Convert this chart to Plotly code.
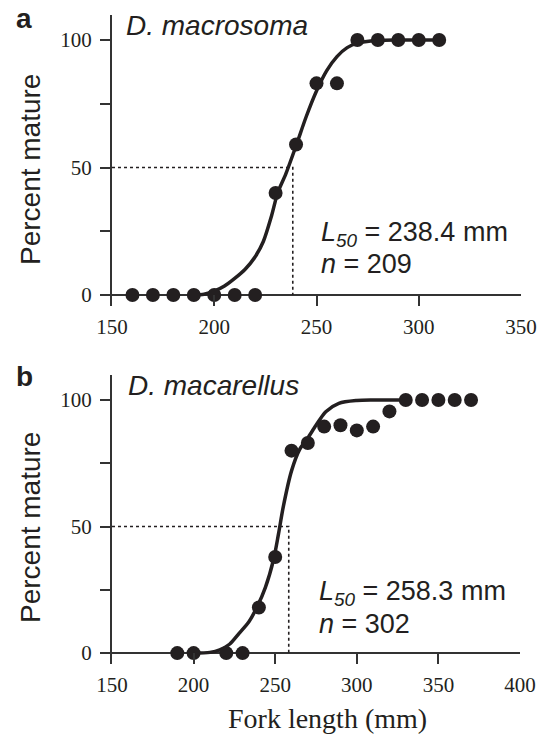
import plotly.graph_objects as go

W, H = 539, 738

# ---------------- data ----------------
# Panel a: D. macrosoma
a_len = [160, 170, 180, 190, 200, 210, 220, 230, 240, 250, 260, 270, 280, 290, 300, 310]
a_pct = [0, 0, 0, 0, 0, 0, 0, 40, 59, 83, 83, 100, 100, 100, 100, 100]
a_fit_len = [190, 195, 200, 205, 210, 215, 220, 224, 228, 231, 235, 240, 245, 250,
             255, 260, 265, 270, 280, 290, 310]
a_fit_pct = [0, 0.3, 1.5, 3.5, 6.5, 10, 15, 21, 31, 40, 47.5, 58.5, 70, 80,
             88, 93.5, 97, 98.8, 99.8, 100, 100]
a_L50 = 238.4
a_n = 209
a_species = "D. macrosoma"
a_xticks = [150, 200, 250, 300, 350]

# Panel b: D. macarellus
b_len = [190, 200, 220, 230, 240, 250, 260, 270, 280, 290, 300, 310, 320, 330, 340, 350, 360, 370]
b_pct = [0, 0, 0, 0, 18, 38, 80, 83, 89.5, 90, 88, 89.5, 95.5, 100, 100, 100, 100, 100]
b_fit_len = [200, 210, 216, 222, 228, 234, 239, 244, 249, 252, 255, 260, 265, 270,
             275, 281, 289, 300, 310, 330]
b_fit_pct = [0, 0.3, 1.3, 3.5, 7.9, 12.5, 18.4, 26, 37, 47, 58, 72, 80.5, 85,
             90, 95.4, 98.7, 99.8, 100, 100]
b_L50 = 258.3
b_n = 302
b_species = "D. macarellus"
b_xticks = [150, 200, 250, 300, 350, 400]

y_major = [0, 50, 100]
y_minor = [25, 75]

# ---------------- styling ----------------
INK = "#231f20"
AX = "#333333"
SANS = "Liberation Sans, Arial, sans-serif"
SERIF = "Liberation Serif, Times New Roman, serif"


def px(x):
    return x / W


def py(y):
    return 1 - y / H


fig = go.Figure()


def add_panel(xs, ys, fx, fy, L50, x0, xa, ya):
    fig.add_trace(go.Scatter(x=[x0, L50, L50], y=[50, 50, 0], mode="lines",
                             line=dict(color=INK, width=1.6, dash="dot"),
                             xaxis=xa, yaxis=ya, hoverinfo="skip"))
    fig.add_trace(go.Scatter(x=fx, y=fy, mode="lines",
                             line=dict(color=INK, width=3.5, shape="spline", smoothing=0.8),
                             xaxis=xa, yaxis=ya, hoverinfo="skip"))
    fig.add_trace(go.Scatter(x=xs, y=ys, mode="markers",
                             marker=dict(color=INK, size=14),
                             cliponaxis=False, xaxis=xa, yaxis=ya))


add_panel(a_len, a_pct, a_fit_len, a_fit_pct, a_L50, a_xticks[0], "x", "y")
add_panel(b_len, b_pct, b_fit_len, b_fit_pct, b_L50, b_xticks[0], "x2", "y2")

common_x = dict(showgrid=False, zeroline=False, showline=False, automargin=False,
                ticks="inside", ticklen=11, tickwidth=2, tickcolor=AX,
                tickfont=dict(family=SERIF, size=21, color=INK),
                ticklabelstandoff=6, ticklabeloverflow="allow", fixedrange=True)
common_y = dict(showgrid=False, showline=True, linewidth=2, linecolor=AX, automargin=False,
                zeroline=True, zerolinecolor=AX, zerolinewidth=2,
                ticks="outside", ticklen=10, tickwidth=2, tickcolor=AX,
                tickvals=y_major, range=[-4.3, 110],
                minor=dict(tickvals=y_minor, ticks="outside", ticklen=10,
                           tickwidth=2, tickcolor=AX, showgrid=False),
                tickfont=dict(family=SERIF, size=21, color=INK),
                ticklabelstandoff=4, ticklabeloverflow="allow", fixedrange=True)

fig.update_layout(
    width=W, height=H,
    margin=dict(l=0, r=0, t=0, b=0, autoexpand=False),
    paper_bgcolor="white", plot_bgcolor="white",
    showlegend=False,
    xaxis=dict(domain=[px(112), px(521)], range=[150, 350], tickvals=a_xticks,
               anchor="y", **common_x),
    yaxis=dict(domain=[py(306), py(14.5)], anchor="x", **common_y),
    xaxis2=dict(domain=[px(112), px(520)], range=[150, 400], tickvals=b_xticks,
                anchor="y2", **common_x),
    yaxis2=dict(domain=[py(664), py(374.7)], anchor="x2", **common_y),
)

ann = []


def text(x, y, s, size, family=SANS, xanchor="left", angle=0):
    ann.append(dict(x=px(x), y=py(y), xref="paper", yref="paper", text=s,
                    showarrow=False, xanchor=xanchor, yanchor="middle",
                    textangle=angle, font=dict(family=family, size=size, color=INK)))


# panel letters
text(14, 19, "<b>a</b>", 28)
text(14, 377, "<b>b</b>", 28)
# species
text(124, 25, f"<i>{a_species}</i>", 28)
text(126, 385, f"<i>{b_species}</i>", 28)
# y titles
text(30, 170, "Percent mature", 28, xanchor="center", angle=-90)
text(30, 528, "Percent mature", 28, xanchor="center", angle=-90)
# L50 / n
text(319, 234, f"<i>L</i><sub><i>50</i></sub> = {a_L50} mm", 27)
text(319, 264, f"<i>n</i> = {a_n}", 27)
text(317, 593, f"<i>L</i><sub><i>50</i></sub> = {b_L50} mm", 27)
text(317, 624, f"<i>n</i> = {b_n}", 27)
# x title
text(327, 718, "Fork length (mm)", 28, family=SERIF, xanchor="center")

fig.update_layout(annotations=ann)
fig.write_html("out.html", config={"displayModeBar": False})

# remove the default page margin so the figure sits at the window's origin
with open("out.html", "r", encoding="utf-8") as f:
    html = f.read()
html = html.replace("<head>", "<head><style>html,body{margin:0;padding:0;overflow:hidden;}</style>", 1)
with open("out.html", "w", encoding="utf-8") as f:
    f.write(html)
